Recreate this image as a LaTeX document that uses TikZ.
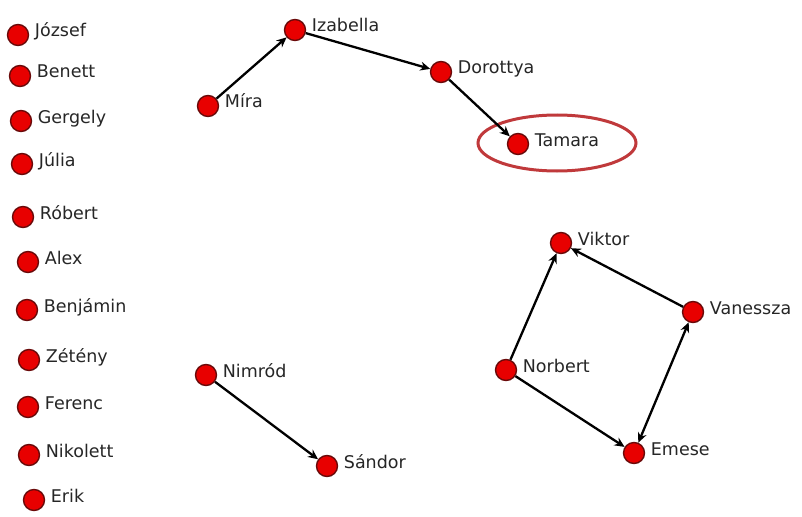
\documentclass[tikz,border=0pt]{standalone}
\usepackage{fontspec}
\setmainfont{DejaVu Sans}
\usetikzlibrary{arrows.meta,shapes.geometric}
\definecolor{nodefill}{HTML}{E80000}
\definecolor{nodeedge}{HTML}{6A0A0A}
\definecolor{ringcol}{HTML}{C0393B}
\tikzset{
  pt/.style={circle,fill=nodefill,draw=nodeedge,line width=1.4pt,minimum size=21pt,inner sep=0pt},
  lbl/.style={anchor=base west,inner sep=0pt,font=\fontsize{17.5}{20}\selectfont,text=black!85},
  edge/.style={draw=black,line width=2.3pt,-{Stealth[length=10pt,width=9pt]}},
  ring/.style={draw=ringcol,line width=3pt}
}
\newcommand\person[4]{%
  \node[pt] (#1) at (#2,#3) {};
  \node[lbl] (#1-l) at ([xshift=5.5pt,yshift=-2pt]#1.east) {#4};}
\begin{document}
\begin{tikzpicture}[x=1pt,y=-1pt]
\useasboundingbox[fill=white] (0,0) rectangle (802,516);
\person{jozsef}{18}{35}{József}
\person{benett}{20}{76}{Benett}
\person{gergely}{21}{121}{Gergely}
\person{julia}{22}{164}{Júlia}
\person{robert}{23}{217}{Róbert}
\person{alex}{28}{262}{Alex}
\person{benjamin}{27}{310}{Benjámin}
\person{zeteny}{29}{360}{Zétény}
\person{ferenc}{28}{407}{Ferenc}
\person{nikolett}{29}{455}{Nikolett}
\person{erik}{34}{500}{Erik}
\person{mira}{208}{106}{Míra}
\person{izabella}{295}{30}{Izabella}
\person{dorottya}{441}{72}{Dorottya}
\person{tamara}{518}{144}{Tamara}
\person{viktor}{561}{243}{Viktor}
\person{vanessza}{693}{312}{Vanessza}
\person{norbert}{506}{370}{Norbert}
\person{emese}{634}{453}{Emese}
\person{nimrod}{206}{375}{Nimród}
\person{sandor}{327}{466}{Sándor}
\node[ring,ellipse,minimum width=158pt,minimum height=56pt,inner sep=0pt] (circ) at (557,143) {};
\draw[edge] (mira) -- (izabella);
\draw[edge] (izabella) -- (dorottya);
\draw[edge] (dorottya) -- (tamara);
\draw[edge] (norbert) -- (viktor);
\draw[edge] (vanessza) -- (viktor);
\draw[edge] (norbert) -- (emese);
\draw[edge,{Stealth[length=10pt,width=9pt]}-{Stealth[length=10pt,width=9pt]}] (emese) -- (vanessza);
\draw[edge] (nimrod) -- (sandor);
\end{tikzpicture}
\end{document}
